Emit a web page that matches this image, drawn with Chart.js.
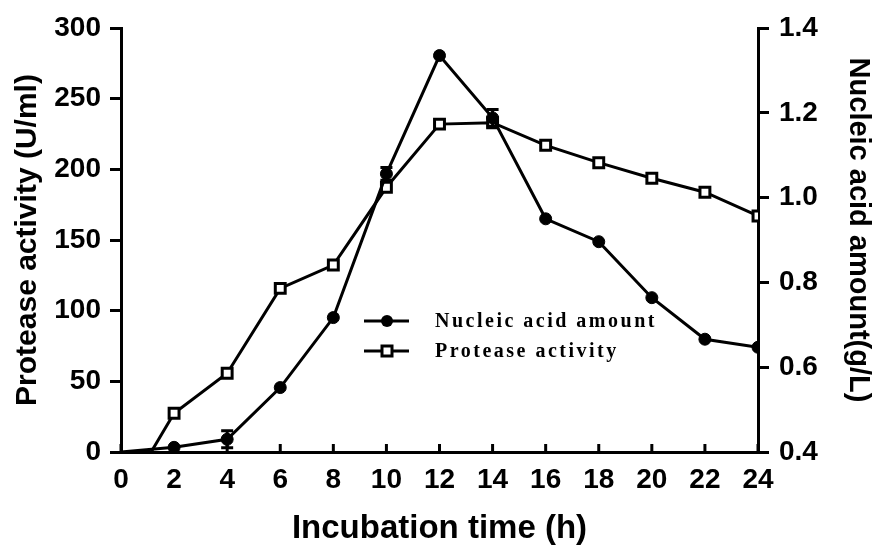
<!DOCTYPE html>
<html>
<head>
<meta charset="utf-8">
<script src="https://cdn.jsdelivr.net/npm/chart.js@4.4.1/dist/chart.umd.min.js"></script>
<style>
  html, body { margin: 0; padding: 0; background: #fff; }
  #wrap { width: 873px; height: 545px; position: relative; }
</style>
</head>
<body>
<div id="wrap"><canvas id="c" width="873" height="545"></canvas></div>
<script>
// ---- Data ----
const hours = [0, 2, 4, 6, 8, 10, 12, 14, 16, 18, 20, 22, 24];
// Nucleic acid amount (g/L), right axis
const nucleicAcid = [0.40, 0.411, 0.430, 0.552, 0.717, 1.056, 1.335, 1.188, 0.950, 0.896, 0.764, 0.666, 0.647];
const nucleicErr  = [0, 0, 0.02, 0, 0, 0.015, 0, 0.02, 0, 0, 0, 0, 0];
// Protease activity (U/ml), left axis (first value lies below the axis and is clipped)
const proteaseActivity = [-36, 27.4, 55.7, 115.8, 132.3, 187.3, 232, 233, 217, 204.7, 193.7, 183.8, 167];
const legendLabels = ['Nucleic acid amount', 'Protease activity'];
const xTitle = 'Incubation time (h)';
const yLeftTitle = 'Protease activity (U/ml)';
const yRightTitle = 'Nucleic acid amount(g/L)';

const SANS = '"Liberation Sans", Arial, sans-serif';
const SERIF = '"Liberation Serif", "Times New Roman", serif';

const nucleicPts = hours.map((h, i) => ({x: h, y: nucleicAcid[i]}));
const proteasePts = hours.map((h, i) => ({x: h, y: proteaseActivity[i]}));

const xTicksPlugin = {
  id: 'xInwardTicks',
  beforeDatasetsDraw(chart) {
    const {ctx, scales: {x}, chartArea} = chart;
    ctx.save();
    ctx.strokeStyle = '#000';
    ctx.lineWidth = 3;
    x.ticks.forEach(t => {
      const px = x.getPixelForValue(t.value);
      ctx.beginPath();
      ctx.moveTo(px, chartArea.bottom);
      ctx.lineTo(px, chartArea.bottom - 8);
      ctx.stroke();
    });
    ctx.restore();
  }
};

const errorBarPlugin = {
  id: 'errorBars',
  afterDatasetsDraw(chart) {
    const {ctx, scales: {x, y1}} = chart;
    ctx.save();
    ctx.strokeStyle = '#000';
    ctx.lineWidth = 3;
    hours.forEach((h, i) => {
      const e = nucleicErr[i];
      if (!e) return;
      const px = x.getPixelForValue(h);
      const top = y1.getPixelForValue(nucleicAcid[i] + e);
      const bot = y1.getPixelForValue(nucleicAcid[i] - e);
      ctx.beginPath();
      ctx.moveTo(px, top); ctx.lineTo(px, bot);
      ctx.moveTo(px - 6, top); ctx.lineTo(px + 6, top);
      ctx.moveTo(px - 6, bot); ctx.lineTo(px + 6, bot);
      ctx.stroke();
    });
    ctx.restore();
  }
};

const rightTitlePlugin = {
  id: 'rightTitle',
  afterDraw(chart) {
    const {ctx, chartArea} = chart;
    ctx.save();
    ctx.translate(858, (chartArea.top + chartArea.bottom) / 2 - 10);
    ctx.rotate(Math.PI / 2);
    ctx.font = 'bold 29px ' + SANS;
    ctx.fillStyle = '#000';
    ctx.textAlign = 'center';
    ctx.textBaseline = 'middle';
    ctx.fillText(yRightTitle, 0, 0);
    ctx.restore();
  }
};

const legendPlugin = {
  id: 'innerLegend',
  afterDraw(chart) {
    const {ctx} = chart;
    ctx.save();
    ctx.strokeStyle = '#000';
    ctx.fillStyle = '#000';
    ctx.lineWidth = 3;
    const rows = [{y: 321, style: 'circle'}, {y: 351, style: 'rect'}];
    rows.forEach((r, i) => {
      ctx.beginPath();
      ctx.moveTo(364, r.y); ctx.lineTo(409, r.y);
      ctx.stroke();
      if (r.style === 'circle') {
        ctx.beginPath();
        ctx.arc(387, r.y, 6, 0, Math.PI * 2);
        ctx.fill();
      } else {
        ctx.fillStyle = '#fff';
        ctx.fillRect(382, r.y - 5, 10, 10);
        ctx.strokeRect(382, r.y - 5, 10, 10);
        ctx.fillStyle = '#000';
      }
      ctx.font = 'bold 20px ' + SERIF;
      if ('letterSpacing' in ctx) ctx.letterSpacing = '2.5px';
      ctx.textBaseline = 'middle';
      ctx.textAlign = 'left';
      ctx.fillText(legendLabels[i], 435, r.y + 1);
    });
    ctx.restore();
  }
};

new Chart(document.getElementById('c'), {
  type: 'line',
  data: {
    datasets: [
      {
        label: legendLabels[0],
        data: nucleicPts,
        yAxisID: 'y1',
        borderColor: '#000',
        borderWidth: 3,
        pointStyle: 'circle',
        pointRadius: hours.map(h => h === 0 ? 0 : 6),
        pointBackgroundColor: '#000',
        pointBorderColor: '#000',
        pointBorderWidth: 1,
        tension: 0
      },
      {
        label: legendLabels[1],
        data: proteasePts,
        yAxisID: 'y',
        borderColor: '#000',
        borderWidth: 3,
        pointStyle: 'rect',
        pointRadius: hours.map(h => h === 0 ? 0 : 7),
        pointBackgroundColor: '#fff',
        pointBorderColor: '#000',
        pointBorderWidth: 3,
        tension: 0
      }
    ]
  },
  options: {
    responsive: false,
    animation: false,
    devicePixelRatio: 1,
    layout: { padding: { top: 28, left: 0, right: 0, bottom: 0 } },
    plugins: { legend: { display: false }, tooltip: { enabled: false } },
    scales: {
      x: {
        type: 'linear',
        min: 0, max: 24,
        ticks: { stepSize: 2, color: '#000', font: { family: SANS, size: 28, weight: 'bold' }, padding: 3, maxRotation: 0 },
        grid: { display: false },
        border: { display: true, width: 3, color: '#000' },
        title: { display: true, text: xTitle, color: '#000', font: { family: SANS, size: 33, weight: 'bold', lineHeight: 1 }, padding: 0 },
        afterFit(s) { s.height = 93; }
      },
      y: {
        position: 'left',
        min: 0, max: 300,
        ticks: { stepSize: 50, color: '#000', font: { family: SANS, size: 28, weight: 'bold' }, padding: 9 },
        grid: { display: true, drawOnChartArea: false, drawTicks: true, tickLength: 11, tickWidth: 3, tickColor: '#000', lineWidth: 3, color: '#000' },
        border: { display: true, width: 3, color: '#000' },
        title: { display: true, text: yLeftTitle, color: '#000', font: { family: SANS, size: 30, weight: 'bold', lineHeight: 1 }, padding: 13 },
        afterFit(s) { s.width = 121; }
      },
      y1: {
        position: 'right',
        min: 0.4, max: 1.4,
        ticks: { stepSize: 0.2, color: '#000', font: { family: SANS, size: 28, weight: 'bold' }, padding: 10, callback: v => Number(v).toFixed(1) },
        grid: { display: true, drawOnChartArea: false, drawTicks: true, tickLength: 11, tickWidth: 3, tickColor: '#000', lineWidth: 3, color: '#000' },
        border: { display: true, width: 3, color: '#000' },
        title: { display: false },
        afterFit(s) { s.width = 115; }
      }
    }
  },
  plugins: [xTicksPlugin, errorBarPlugin, rightTitlePlugin, legendPlugin]
});
</script>
</body>
</html>
